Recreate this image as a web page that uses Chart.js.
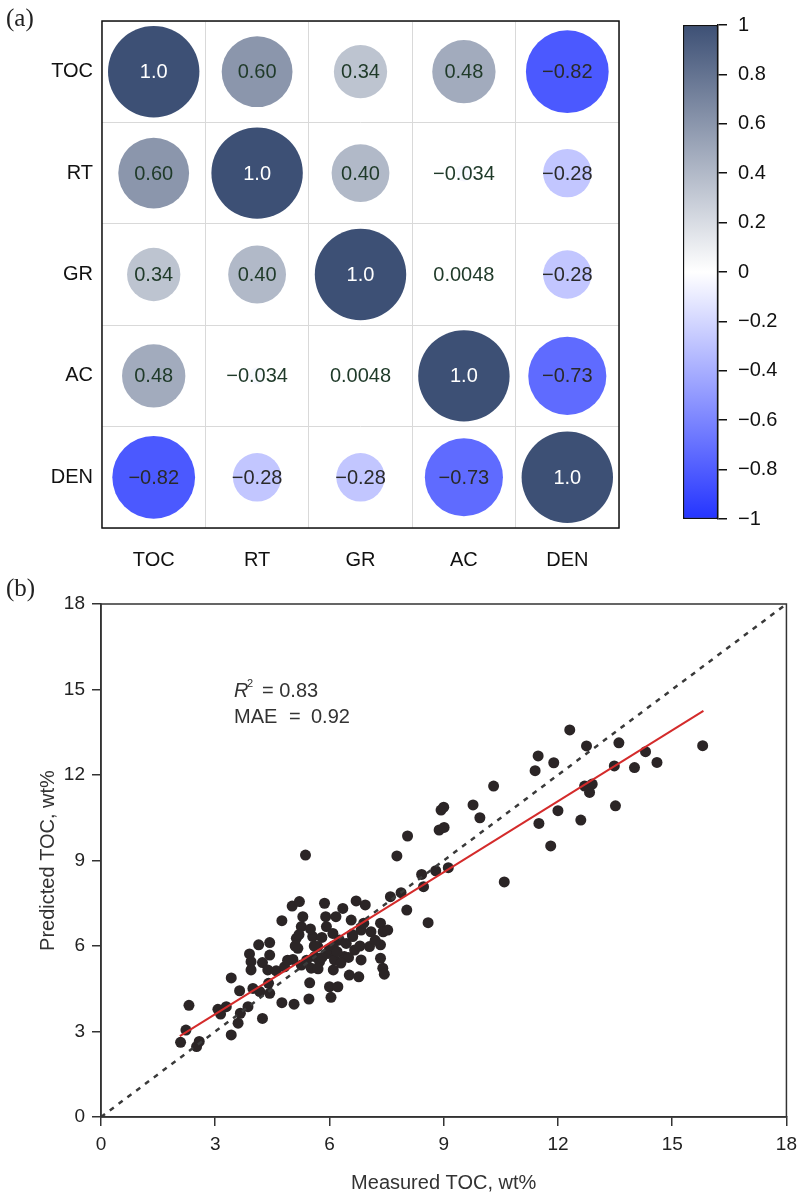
<!DOCTYPE html>
<html>
<head>
<meta charset="utf-8">
<script src="https://cdn.jsdelivr.net/npm/chart.js@4.4.1/dist/chart.umd.min.js"></script>
<style>
  html, body { margin: 0; padding: 0; background: #fff; }
  body { width: 804px; height: 1198px; position: relative; overflow: hidden; }
  canvas { position: absolute; }
  .tag { position: absolute; font-family: "Liberation Serif", serif; font-size: 25px; color: #222; line-height: 30px; }
</style>
</head>
<body>
<canvas id="corr" style="left:0;top:0" width="660" height="580"></canvas>
<canvas id="cbar" style="left:670px;top:0" width="134" height="545"></canvas>
<canvas id="scat" style="left:0;top:580px" width="804" height="618"></canvas>
<div class="tag" style="left:6px;top:3px">(a)</div>
<div class="tag" style="left:6px;top:573px">(b)</div>
<script>
// variables + correlation matrix (a)
const vars = ['TOC', 'RT', 'GR', 'AC', 'DEN'];
const corr = [
    [1, 0.60, 0.34, 0.48, -0.82],
    [0.60, 1, 0.40, -0.034, -0.28],
    [0.34, 0.40, 1, 0.0048, -0.28],
    [0.48, -0.034, 0.0048, 1, -0.73],
    [-0.82, -0.28, -0.28, -0.73, 1]
];

// measured vs predicted TOC (b)
const measured = [
    2.09, 2.23, 2.31, 2.51, 2.58, 3.07, 3.14, 3.29, 3.42, 3.42, 3.60, 3.64, 3.66, 3.86, 3.90, 3.94, 3.94, 3.99,
    4.14, 4.17, 4.24, 4.24, 4.38, 4.40, 4.43, 4.43, 4.43, 4.60, 4.75, 4.75, 4.82, 5.02, 5.07, 5.04, 5.17, 5.13,
    5.21, 5.26, 5.30, 5.26, 5.37, 5.46, 5.48, 5.52, 5.56, 5.61, 5.69, 5.74, 5.87, 5.90, 5.92, 5.96, 6.00, 6.04,
    6.09, 6.10, 6.13, 6.17, 6.22, 6.26, 6.35, 6.39, 6.44, 6.52, 6.57, 6.61, 6.66, 6.70, 6.77, 6.83, 6.83, 6.94,
    7.05, 7.09, 7.34, 7.34, 7.34, 7.40, 7.44, 7.41, 7.53, 7.60, 7.77, 7.88, 8.05, 8.03, 8.42, 8.47, 8.59, 8.79,
    8.88, 9.01, 9.12, 8.93, 9.00, 9.77, 9.95, 10.31, 10.59, 11.40, 11.48, 11.89, 12.31, 12.75, 13.60, 13.48,
    14.01, 14.30, 14.60, 15.80, 12.70, 12.90, 12.83, 13.51, 12.00, 11.50, 12.60, 11.81,
    5.60, 5.80, 6.00, 6.60, 5.50, 6.50, 6.80, 5.40, 6.30, 5.70, 6.90, 5.20, 4.90, 5.10, 7.20, 6.10, 5.80, 6.20
];
const predicted = [
    2.62, 3.05, 3.92, 2.47, 2.65, 3.78, 3.61, 3.87, 2.88, 4.88, 3.29, 4.43, 3.64, 3.87, 5.72, 5.45, 5.16, 4.51,
    6.04, 4.40, 3.46, 5.42, 5.16, 4.69, 5.68, 6.12, 4.34, 5.13, 4.01, 6.89, 5.27, 7.40, 3.96, 5.53, 5.92, 6.27,
    7.56, 5.33, 7.03, 6.68, 9.19, 4.14, 4.71, 5.22, 6.33, 5.63, 5.98, 5.45, 7.50, 7.03, 6.68, 5.74, 4.57, 4.20,
    6.44, 5.16, 5.51, 7.03, 4.57, 6.21, 7.32, 5.63, 6.09, 4.98, 6.91, 6.33, 5.86, 7.58, 4.92, 5.51, 6.56, 7.44,
    5.98, 6.50, 6.80, 6.04, 5.57, 5.22, 5.01, 6.50, 6.56, 7.73, 9.16, 7.87, 9.86, 7.26, 8.51, 8.08, 6.82, 8.64,
    10.07, 10.16, 8.75, 10.77, 10.87, 10.95, 10.50, 11.61, 8.25, 12.15, 12.67, 12.43, 13.58, 13.02, 13.13, 12.32,
    12.26, 12.82, 12.44, 13.03, 11.61, 11.68, 11.39, 10.92, 10.75, 10.30, 10.42, 9.51,
    6.00, 6.30, 5.90, 6.40, 6.60, 5.60, 6.00, 5.50, 5.40, 5.20, 6.80, 6.40, 5.50, 6.00, 6.20, 6.00, 5.60, 5.80
];
// fitted line ends
const fitX = [2.07, 15.82];
const fitY = [2.84, 14.25];

const FONT = '"Liberation Sans", Arial, sans-serif';
const posEnd = [61, 80, 117];
const negEnd = [36, 52, 255];

function corrColor(v) {
    const end = v >= 0 ? posEnd : negEnd;
    const t = Math.abs(v);
    const c = end.map(e => Math.round(255 - t * (255 - e)));
    return `rgb(${c[0]},${c[1]},${c[2]})`;
}
function fmt(v) {
    return v.toPrecision(2).replace('-', '\u2212');
}

const cells = [];
corr.forEach((row, i) => row.forEach((v, j) => cells.push({ x: vars[j], y: vars[i], v: v })));

// box around the plot area
const frame = {
    id: 'frame',
    afterDraw(chart, args, opts) {
        const a = chart.chartArea, ctx = chart.ctx;
        ctx.save();
        ctx.strokeStyle = opts.color || '#111';
        ctx.lineWidth = opts.width || 1.5;
        ctx.strokeRect(a.left, a.top, a.right - a.left, a.bottom - a.top);
        ctx.restore();
    }
};

// values written into the circles
const cellLabels = {
    id: 'cellLabels',
    afterDatasetsDraw(chart) {
        const ctx = chart.ctx;
        const meta = chart.getDatasetMeta(0);
        ctx.save();
        ctx.font = '20px ' + FONT;
        ctx.textAlign = 'center';
        ctx.textBaseline = 'middle';
        meta.data.forEach((el, k) => {
            const v = cells[k].v;
            ctx.fillStyle = v === 1 ? '#ffffff' : (v > -0.1 ? '#1f3a29' : '#2a2a2a');
            ctx.fillText(fmt(v), el.x, el.y + 1);
        });
        ctx.restore();
    }
};

new Chart(document.getElementById('corr'), {
    type: 'bubble',
    data: {
        datasets: [{
            data: cells,
            backgroundColor: c => corrColor(c.raw.v),
            borderWidth: 0,
            radius: c => 45.7 * Math.sqrt(Math.abs(c.raw.v))
        }]
    },
    options: {
        responsive: false,
        animation: false,
        events: [],
        layout: { autoPadding: false, padding: { top: 17, right: 41, left: 0, bottom: 0 } },
        plugins: { legend: { display: false }, tooltip: { enabled: false }, frame: { color: '#111', width: 1.5 } },
        scales: {
            x: {
                type: 'category', labels: vars, offset: true,
                grid: { offset: true, drawTicks: false, color: '#d9d9d9', lineWidth: 1 },
                border: { display: false },
                ticks: { padding: 20, color: '#111', font: { family: FONT, size: 20 } },
                afterFit: s => { s.height = 52; }
            },
            y: {
                type: 'category', labels: vars, offset: true,
                grid: { offset: true, drawTicks: false, color: '#d9d9d9', lineWidth: 1 },
                border: { display: false },
                ticks: { padding: 9, color: '#111', font: { family: FONT, size: 20 } },
                afterFit: s => { s.width = 102; }
            }
        }
    },
    plugins: [cellLabels, frame]
});

// colour bar
new Chart(document.getElementById('cbar'), {
    type: 'bar',
    data: {
        labels: [''],
        datasets: [{
            data: [[-1, 1]],
            backgroundColor: c => {
                const a = c.chart.chartArea;
                if (!a) return '#fff';
                const g = c.chart.ctx.createLinearGradient(0, a.bottom, 0, a.top);
                g.addColorStop(0, corrColor(-1));
                g.addColorStop(0.5, '#ffffff');
                g.addColorStop(1, corrColor(1));
                return g;
            },
            borderColor: '#111',
            borderWidth: 1.5,
            borderSkipped: false,
            barPercentage: 1,
            categoryPercentage: 1
        }]
    },
    options: {
        responsive: false,
        animation: false,
        events: [],
        layout: { autoPadding: false, padding: { left: 13, top: 25, bottom: 26, right: 0 } },
        plugins: { legend: { display: false }, tooltip: { enabled: false } },
        scales: {
            x: { display: false },
            y: {
                position: 'right', min: -1, max: 1,
                ticks: {
                    stepSize: 0.2, padding: 11, color: '#111', font: { family: FONT, size: 20 },
                    callback: v => String(Math.round(v * 10) / 10).replace('-', '\u2212')
                },
                grid: { drawOnChartArea: false, tickLength: 9, color: '#111', lineWidth: 1.5 },
                border: { display: true, color: '#111', width: 1.5 },
                afterFit: s => { s.width = 86; }
            }
        }
    }
});

// R2 / MAE text
const stats = {
    id: 'stats',
    afterDraw(chart) {
        const ctx = chart.ctx;
        ctx.save();
        ctx.fillStyle = '#333';
        ctx.textBaseline = 'alphabetic';
        ctx.font = 'italic 20px ' + FONT;
        ctx.fillText('R', 234, 117);
        ctx.font = '11px ' + FONT;
        ctx.fillText('2', 247, 107);
        ctx.font = '20px ' + FONT;
        ctx.fillText('= 0.83', 262, 117);
        ctx.fillText('MAE', 234, 143);
        ctx.fillText('=', 289, 143);
        ctx.fillText('0.92', 311, 143);
        ctx.restore();
    }
};

const points = measured.map((x, i) => ({ x: x, y: predicted[i] }));
const axisStyle = {
    min: 0, max: 18,
    grid: { drawOnChartArea: false, tickLength: 9, color: '#333', lineWidth: 1.5 },
    border: { display: true, color: '#333', width: 1.5 }
};

new Chart(document.getElementById('scat'), {
    type: 'scatter',
    data: {
        datasets: [
            {
                data: fitX.map((x, i) => ({ x: x, y: fitY[i] })),
                showLine: true, borderColor: '#d42b2b', borderWidth: 2, pointRadius: 0, order: 0
            },
            {
                data: [{ x: 0, y: 0 }, { x: 18, y: 18 }],
                showLine: true, borderColor: '#3a3a3a', borderWidth: 2.5, borderDash: [5, 6], pointRadius: 0, order: 1
            },
            {
                data: points,
                pointRadius: 5.5, backgroundColor: '#2b2526', borderWidth: 0, order: 2
            }
        ]
    },
    options: {
        responsive: false,
        animation: false,
        events: [],
        layout: { autoPadding: false, padding: { top: 24, right: 16, left: 0, bottom: 0 } },
        plugins: { legend: { display: false }, tooltip: { enabled: false }, frame: { color: '#333', width: 1.5 } },
        scales: {
            x: Object.assign({}, axisStyle, {
                ticks: { stepSize: 3, padding: 7, color: '#222', font: { family: FONT, size: 19 } },
                title: { display: true, text: 'Measured TOC, wt%', color: '#333', font: { family: FONT, size: 20 }, padding: { top: 0, bottom: 3 } },
                afterFit: s => { s.height = 81; }
            }),
            y: Object.assign({}, axisStyle, {
                ticks: { stepSize: 3, padding: 7, color: '#222', font: { family: FONT, size: 19 } },
                title: { display: true, text: 'Predicted TOC, wt%', color: '#333', font: { family: FONT, size: 20 }, padding: { top: 36, bottom: 0 } },
                afterFit: s => { s.width = 101; }
            })
        }
    },
    plugins: [frame, stats]
});
</script>
</body>
</html>
